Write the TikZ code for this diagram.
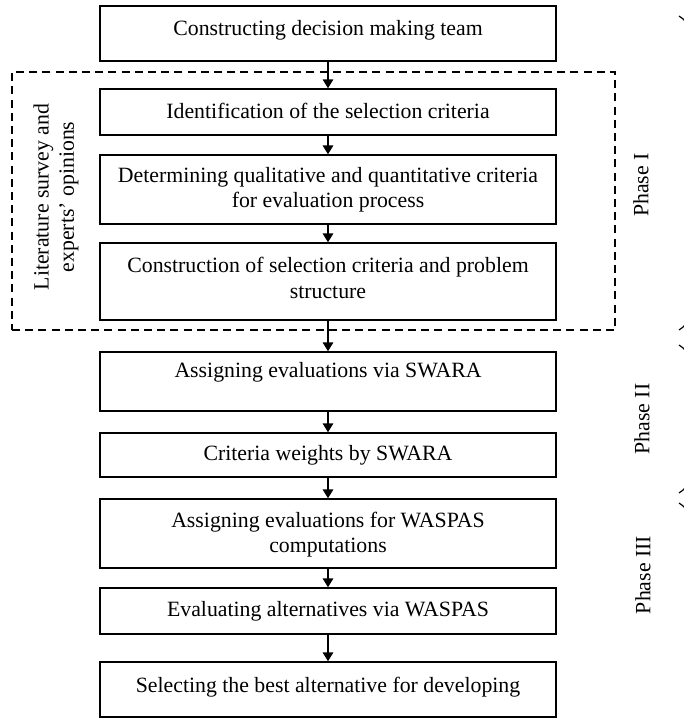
\documentclass[tikz,border=0pt]{standalone}
\usepackage{fontspec}
\setmainfont{Liberation Serif}
\usetikzlibrary{arrows.meta,decorations.pathreplacing}
\begin{document}
\begin{tikzpicture}[x=0.5pt,y=-0.5pt,
  box/.style={draw,line width=0.65pt,inner sep=0pt},
  txt/.style={align=center,inner sep=0pt,font=\fontsize{10.9}{12.6}\selectfont},
  flow/.style={line width=0.95pt,-{Triangle[length=4.5pt,width=5.2pt]}},
  dashbox/.style={draw,line width=0.6pt,dash pattern=on 4pt off 2.6pt},
  phasebrace/.style={line width=0.6pt,decorate,decoration={brace,amplitude=10pt}}]
\useasboundingbox (0,0) rectangle (684,727);
\clip (0,0) rectangle (684,727);
% dashed frame
\node[dashbox,minimum width=301.5pt,minimum height=129pt,inner sep=0pt] (frame) at (313.5,201) {};
% boxes
\node[box,minimum width=228pt,minimum height=27.5pt] (b1) at (328,33.5) {};
\node[box,minimum width=228pt,minimum height=23pt] (b2) at (328,112) {};
\node[box,minimum width=228pt,minimum height=34.5pt] (b3) at (328,189.5) {};
\node[box,minimum width=228pt,minimum height=38.5pt] (b4) at (328,281.5) {};
\node[box,minimum width=228pt,minimum height=29.5pt] (b5) at (328,381.5) {};
\node[box,minimum width=228pt,minimum height=22pt] (b6) at (328,455) {};
\node[box,minimum width=228pt,minimum height=34.5pt] (b7) at (328,533.5) {};
\node[box,minimum width=228pt,minimum height=23pt] (b8) at (328,611) {};
\node[box,minimum width=228pt,minimum height=27.5pt] (b9) at (328,689.5) {};
% texts
\node[txt] (t1) at (328,30) {Constructing decision making team};
\node[txt] (t2) at (328,111) {Identification of the selection criteria};
\node[txt] (t3) at (328,189.5) {Determining qualitative and quantitative criteria\\for evaluation process};
\node[txt] (t4) at (328,278) {Construction of selection criteria and problem\\structure};
\node[txt] (t5) at (328,372) {Assigning evaluations via SWARA};
\node[txt] (t6) at (328,455) {Criteria weights by SWARA};
\node[txt] (t7) at (328,535) {Assigning evaluations for WASPAS\\computations};
\node[txt] (t8) at (328,611) {Evaluating alternatives via WASPAS};
\node[txt] (t9) at (328,687) {Selecting the best alternative for developing};
% side texts
\node[txt,rotate=90] (lit) at (56,197) {Literature survey and\\experts' opinions};
\node[txt,rotate=90] (p1) at (641,185) {Phase I};
\node[txt,rotate=90] (p2) at (642,419) {Phase II};
\node[txt,rotate=90] (p3) at (643,575) {Phase III};
% arrows
\draw[flow] (b1) -- (b2);
\draw[flow] (b2) -- (b3);
\draw[flow] (b3) -- (b4);
\draw[flow] (b4) -- (b5);
\draw[flow] (b5) -- (b6);
\draw[flow] (b6) -- (b7);
\draw[flow] (b7) -- (b8);
\draw[flow] (b8) -- (b9);
% braces (only their tips are visible)
\coordinate (br1a) at (679,16);
\coordinate (br1b) at (679,330);
\coordinate (br2a) at (679,345);
\coordinate (br2b) at (679,493);
\coordinate (br3a) at (679,503);
\coordinate (br3b) at (679,760);
\draw[phasebrace] (br1a) -- (br1b);
\draw[phasebrace] (br2a) -- (br2b);
\draw[phasebrace] (br3a) -- (br3b);
\end{tikzpicture}
\end{document}
